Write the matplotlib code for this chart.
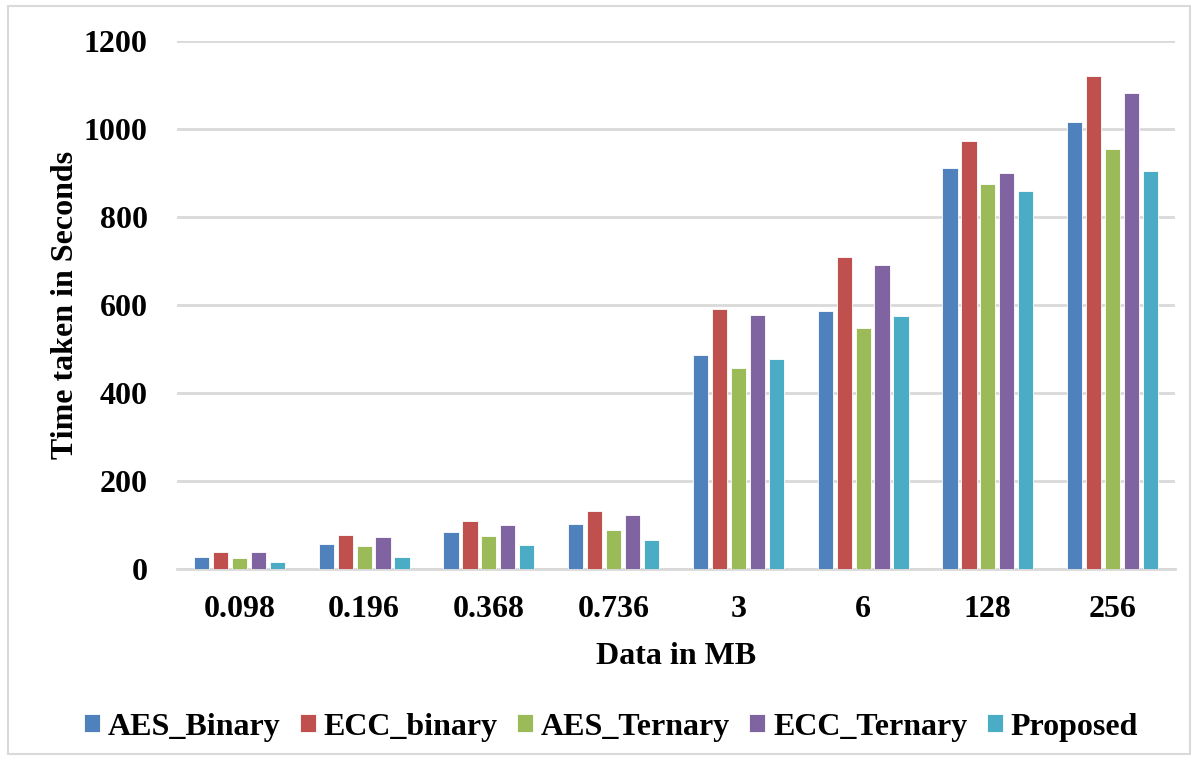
import matplotlib
matplotlib.use("Agg")
import matplotlib.pyplot as plt
import numpy as np
from matplotlib.patches import Rectangle

categories = ["0.098", "0.196", "0.368", "0.736", "3", "6", "128", "256"]
series_names = ["AES_Binary", "ECC_binary", "AES_Ternary", "ECC_Ternary", "Proposed"]
aes_binary = [27, 56, 85, 102, 487, 586, 911, 1017]
ecc_binary = [39, 78, 109, 132, 590, 708, 973, 1121]
aes_ternary = [26, 52, 74, 89, 456, 548, 875, 954]
ecc_ternary = [38, 72, 101, 123, 578, 692, 901, 1082]
proposed = [17, 27, 55, 67, 478, 575, 860, 904]
colors = ["#4F81BD", "#C0504D", "#9BBB59", "#8064A2", "#4BACC6"]
yticks = [0, 200, 400, 600, 800, 1000, 1200]

plt.rcParams['font.family'] = ['Liberation Serif', 'DejaVu Serif']
plt.rcParams['font.weight'] = 'bold'

FS = 23

fig = plt.figure(figsize=(11.99, 7.62), dpi=100)
ax = fig.add_axes([177/1199, 1 - 569/762, (1175-177)/1199, (569-41)/762])

data = [aes_binary, ecc_binary, aes_ternary, ecc_ternary, proposed]
x = np.arange(len(categories))
pitch = 0.152
width = 0.122
for i, (name, vals, c) in enumerate(zip(series_names, data, colors)):
    ax.bar(x + (i - 2) * pitch, vals, width, color=c, label=name,
           edgecolor="white", linewidth=0.6, zorder=3)

ax.set_xlim(-0.5, len(categories) - 0.5)
ax.set_ylim(0, 1200)
ax.set_yticks(yticks)
ax.set_xticks(x)
ax.set_xticklabels(categories)
ax.grid(axis='y', color='#d9d9d9', linewidth=2, zorder=0)
for s in ['top', 'right', 'left']:
    ax.spines[s].set_visible(False)
ax.spines['bottom'].set_color('#d9d9d9')
ax.spines['bottom'].set_linewidth(2)
ax.tick_params(axis='both', length=0, labelsize=FS)
ax.tick_params(axis='y', pad=21)
ax.tick_params(axis='x', pad=19)
for lab in ax.get_xticklabels() + ax.get_yticklabels():
    lab.set_fontweight('bold')

ax.set_xlabel("Data in MB", fontsize=FS, fontweight='bold', labelpad=13)
ax.set_ylabel("Time taken in Seconds", fontsize=FS, fontweight='bold', labelpad=3)

leg = fig.legend(loc='center', bbox_to_anchor=(611/1199, 1 - 727/762), ncol=5,
                 frameon=False, handlelength=0.5, handleheight=0.5,
                 handletextpad=0.25, columnspacing=0.6,
                 prop={'weight': 'bold', 'size': FS})

fig.patches.append(Rectangle((8/1199, 8/762), (1190-8)/1199, (756-8)/762,
                             transform=fig.transFigure, fill=False,
                             edgecolor='#d9d9d9', linewidth=1.5))

fig.savefig("out.png", dpi=100)
